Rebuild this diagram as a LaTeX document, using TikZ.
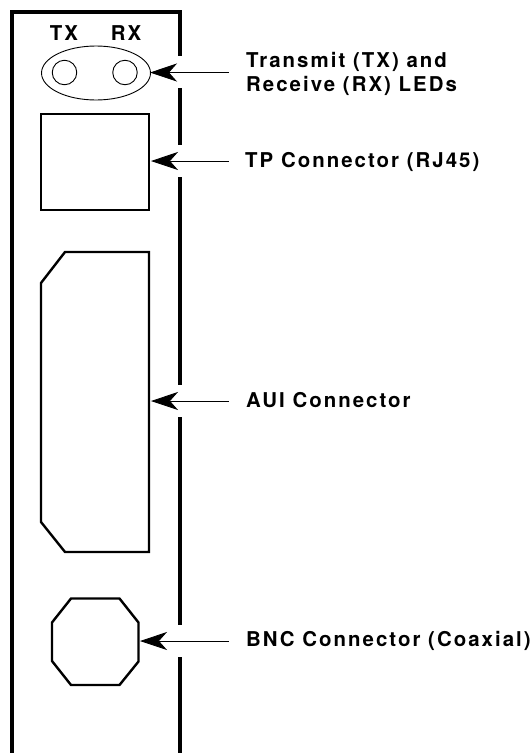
\documentclass[tikz,border=0pt]{standalone}
\usepackage{fontspec}
\setmainfont{TeX Gyre Heros}[LetterSpace=10]
\usetikzlibrary{shapes.geometric,arrows.meta}
\tikzset{
  frameline/.style={line width=4pt,line cap=butt,black},
  part/.style={line width=2.4pt,black,line join=miter},
  led/.style={line width=0.9pt,black},
  pointer/.style={line width=0.8pt,black,{Stealth[length=27pt,width=18pt,inset=8pt]}-},
  lbl/.style={anchor=base west,inner sep=0pt,font=\fontsize{20.4pt}{24pt}\selectfont\bfseries,align=left},
}
\begin{document}
\begin{tikzpicture}[x=1pt,y=-1pt]
\useasboundingbox (0,0) rectangle (531,753);
\fill[white] (0,0) rectangle (531,753);
% panel
\coordinate (bl) at (11.5,753);
\coordinate (tl) at (11.5,11.5);
\coordinate (tr) at (179.5,11.5);
\draw[frameline,line join=miter] (bl) -- (tl) -- (tr) -- (179.5,56);
\draw[frameline] (179.5,88) -- (179.5,145);
\draw[frameline] (179.5,177) -- (179.5,385);
\draw[frameline] (179.5,417) -- (179.5,625);
\draw[frameline] (179.5,657) -- (179.5,753);
% LEDs
\node[draw,led,ellipse,minimum width=109pt,minimum height=54pt,inner sep=0pt] (leds) at (96,73) {};
\node[draw,led,circle,minimum size=24.5pt,inner sep=0pt] (ledtx) at (64.5,72.5) {};
\node[draw,led,circle,minimum size=24.5pt,inner sep=0pt] (ledrx) at (125,72.5) {};
\node[lbl,anchor=base] (tx) at (64,40.5) {TX};
\node[lbl,anchor=base] (rx) at (126,40.5) {RX};
% RJ45
\node[draw,part,rectangle,minimum width=108pt,minimum height=96pt,inner sep=0pt] (tp) at (95,162) {};
% AUI
\coordinate (a1) at (65,252);
\coordinate (a2) at (149,252);
\coordinate (a3) at (149,552);
\coordinate (a4) at (65,552);
\coordinate (a5) at (41,522);
\coordinate (a6) at (41,283);
\draw[part] (a1) -- (a2) -- (a3) -- (a4) -- (a5) -- (a6) -- cycle;
% BNC
\draw[part] (71,598.5) -- (119.5,598.5) -- (138.5,622.5) -- (138.5,661.5) -- (119.5,685) -- (71,685) -- (52,661) -- (52,622.5) -- cycle;
% labels
\node[lbl] (l1) at (246,91) {Transmit (TX) and\\Receive (RX) LEDs};
\node[lbl] (l2) at (245,167) {TP Connector (RJ45)};
\node[lbl] (l3) at (246,407) {AUI Connector};
\node[lbl] (l4) at (246,646) {BNC Connector (Coaxial)};
% pointers
\coordinate (p1) at (229,72.5); \coordinate (t1) at (150,72.5);
\coordinate (p2) at (229,161);  \coordinate (t2) at (151,161);
\coordinate (p3) at (229,401);  \coordinate (t3) at (151,401);
\coordinate (p4) at (229,641);  \coordinate (t4) at (140,641);
\draw[pointer] (t1) -- (p1);
\draw[pointer] (t2) -- (p2);
\draw[pointer] (t3) -- (p3);
\draw[pointer] (t4) -- (p4);
\end{tikzpicture}
\end{document}
